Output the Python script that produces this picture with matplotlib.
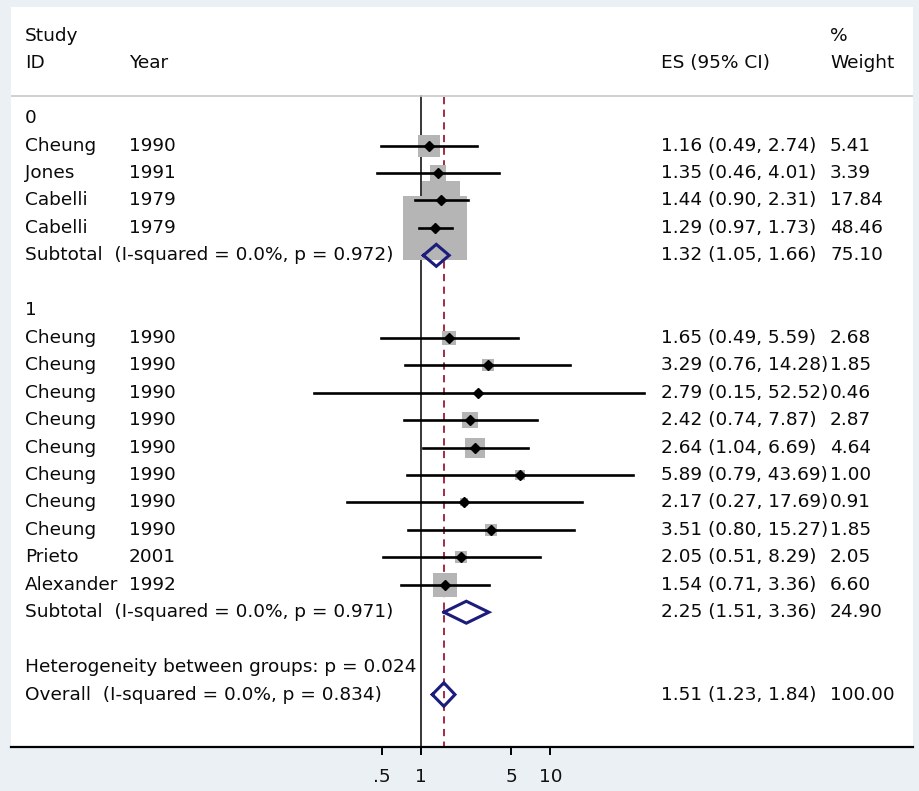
import matplotlib.pyplot as plt
import matplotlib.transforms as mtransforms
from matplotlib.patches import Rectangle

plt.rcParams['font.family'] = ['DejaVu Sans']

# study level data, two subgroups
group_names = ['0', '1']
group_studies = [
    ['Cheung', 'Jones', 'Cabelli', 'Cabelli'],
    ['Cheung'] * 8 + ['Prieto', 'Alexander'],
]
group_years = [
    ['1990', '1991', '1979', '1979'],
    ['1990'] * 8 + ['2001', '1992'],
]
group_es = [
    [1.16, 1.35, 1.44, 1.29],
    [1.65, 3.29, 2.79, 2.42, 2.64, 5.89, 2.17, 3.51, 2.05, 1.54],
]
group_lo = [
    [0.49, 0.46, 0.90, 0.97],
    [0.49, 0.76, 0.15, 0.74, 1.04, 0.79, 0.27, 0.80, 0.51, 0.71],
]
group_hi = [
    [2.74, 4.01, 2.31, 1.73],
    [5.59, 14.28, 52.52, 7.87, 6.69, 43.69, 17.69, 15.27, 8.29, 3.36],
]
group_weight = [
    [5.41, 3.39, 17.84, 48.46],
    [2.68, 1.85, 0.46, 2.87, 4.64, 1.00, 0.91, 1.85, 2.05, 6.60],
]

# subgroup pooled estimates
sub_es = [1.32, 2.25]
sub_lo = [1.05, 1.51]
sub_hi = [1.66, 3.36]
sub_weight = [75.10, 24.90]
sub_label = ['Subtotal  (I-squared = 0.0%, p = 0.972)',
             'Subtotal  (I-squared = 0.0%, p = 0.971)']

het_label = 'Heterogeneity between groups: p = 0.024'
overall_label = 'Overall  (I-squared = 0.0%, p = 0.834)'
overall_es, overall_lo, overall_hi, overall_weight = 1.51, 1.23, 1.84, 100.00

tick_vals = [0.5, 1, 5, 10]
tick_labels = ['.5', '1', '5', '10']

W, H = 919, 791
bg = '#eaf0f4'
navy = '#1c1c7c'
fs = 13.3

fig = plt.figure(figsize=(W / 100, H / 100), dpi=100, facecolor=bg)
# white panel behind the chart
fig.patches.append(Rectangle((11 / W, (H - 747) / H), (913 - 11) / W, (747 - 7) / H,
                             transform=fig.transFigure, facecolor='white',
                             edgecolor='none', zorder=0))

ax = fig.add_axes([11 / W, (H - 747) / H, (913 - 11) / W, (747 - 8) / H])
ax.set_zorder(2)
ax.set_facecolor('none')
ax.set_xscale('log')
ax.set_xlim(10 ** -3.161, 10 ** 3.799)
ax.set_ylim(22.91, -4.01)

for s in ['top', 'left', 'right']:
    ax.spines[s].set_visible(False)
ax.spines['bottom'].set_linewidth(1.6)
ax.set_yticks([])
ax.set_xticks(tick_vals)
ax.set_xticklabels(tick_labels, fontsize=fs)
ax.minorticks_off()
ax.tick_params(axis='x', length=6, width=1.4, pad=9, labelcolor='#111111')

# x in figure pixels, y in row units
text_tr = mtransforms.blended_transform_factory(fig.transFigure, ax.transData)


def txt(xpx, row, s):
    ax.text(xpx / W, row, s, transform=text_tr, fontsize=fs, va='center',
            ha='left', color='#0a0a0a', clip_on=False)


# header
txt(25, -3, 'Study')
txt(25, -2, 'ID')
txt(129, -2, 'Year')
txt(661, -2, 'ES (95% CI)')
txt(830, -3, '%')
txt(830, -2, 'Weight')
ax.axhline(-0.8, color='#c8c8c8', lw=1.2)

bottom = 22.91
ax.plot([1, 1], [-0.8, bottom], color='black', lw=1.1, zorder=1)
ax.plot([overall_es, overall_es], [-0.75, bottom], color='#9b1b35', lw=1.3,
        linestyle=(0, (4, 3)), zorder=1)


def diamond(row, es, lo, hi, h=0.4):
    ax.plot([lo, es, hi, es, lo], [row, row - h, row, row + h, row],
            color=navy, lw=2.2, zorder=5, solid_joinstyle='miter')


row = 0
for g in range(len(group_names)):
    txt(25, row, group_names[g])
    row += 1
    for i in range(len(group_studies[g])):
        es, lo, hi, w = group_es[g][i], group_lo[g][i], group_hi[g][i], group_weight[g][i]
        ax.scatter([es], [row], s=42.5 * w, marker='s', color='#b5b5b5',
                   linewidths=0, zorder=2)
        ax.plot([lo, hi], [row, row], color='black', lw=1.9, zorder=3)
        ax.plot([es], [row], marker='D', color='black', markersize=4.8, zorder=4)
        txt(25, row, group_studies[g][i])
        txt(129, row, group_years[g][i])
        txt(661, row, f'{es:.2f} ({lo:.2f}, {hi:.2f})')
        txt(830, row, f'{w:.2f}')
        row += 1
    diamond(row, sub_es[g], sub_lo[g], sub_hi[g])
    txt(25, row, sub_label[g])
    txt(661, row, f'{sub_es[g]:.2f} ({sub_lo[g]:.2f}, {sub_hi[g]:.2f})')
    txt(830, row, f'{sub_weight[g]:.2f}')
    row += 2

txt(25, row, het_label)
row += 1
diamond(row, overall_es, overall_lo, overall_hi, h=0.43)
txt(25, row, overall_label)
txt(661, row, f'{overall_es:.2f} ({overall_lo:.2f}, {overall_hi:.2f})')
txt(830, row, f'{overall_weight:.2f}')

fig.savefig('out.png', dpi=100, facecolor=bg)
